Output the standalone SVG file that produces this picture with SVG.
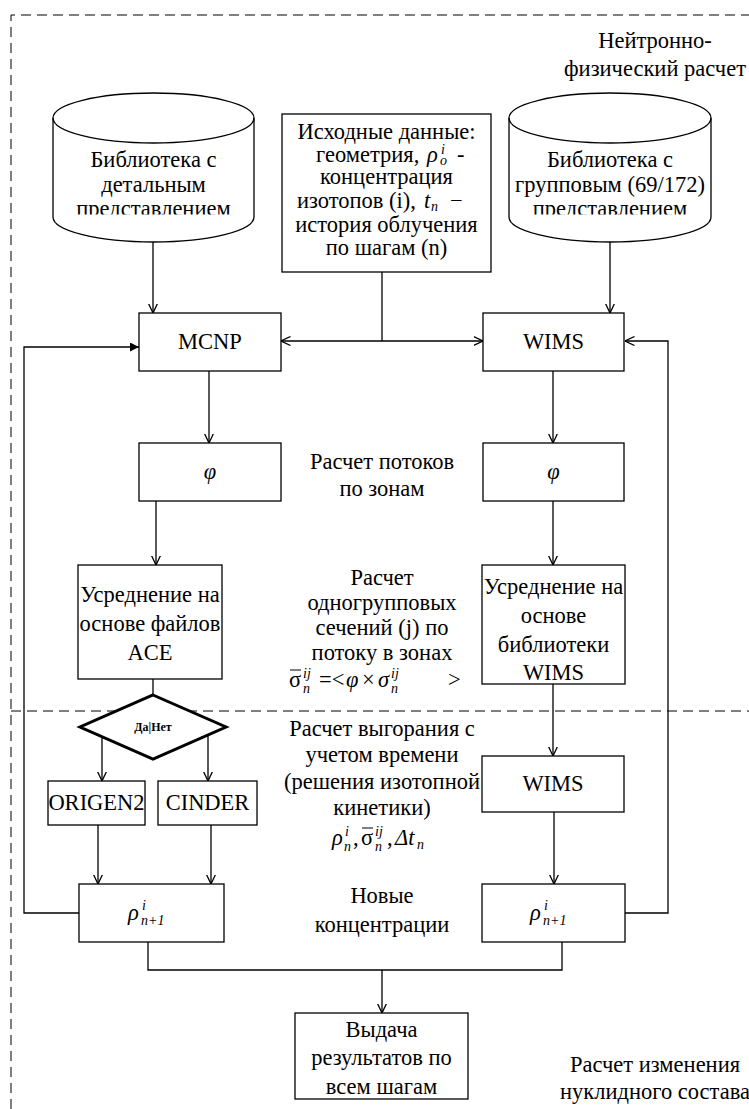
<svg xmlns="http://www.w3.org/2000/svg" width="749" height="1109" viewBox="0 0 749 1109">
<style>
text{font-family:"Liberation Serif","Times New Roman",serif;font-size:22.5px;fill:#000}
.c{text-anchor:middle}
.m{font-style:italic}
.s{font-size:14px;font-style:italic}
.box{fill:#fff;stroke:#000;stroke-width:1.3}
.cyl{fill:#fff;stroke:#000;stroke-width:1.3}
.dash{fill:none;stroke:#000;stroke-width:1;stroke-dasharray:10,6}
.ln{fill:none;stroke:#000;stroke-width:1.3}
.dm{fill:#fff;stroke:#000;stroke-width:3}
.bar{stroke:#000;stroke-width:1}
</style>
<defs>
<marker id="arr" viewBox="0 0 10 10" refX="9.5" refY="5" markerWidth="10" markerHeight="10" markerUnits="userSpaceOnUse" orient="auto">
<path d="M0,0.5 L9.5,5 L0,9.5" fill="none" stroke="#000" stroke-width="1.3"/>
</marker>
<marker id="arrf" viewBox="0 0 10 10" refX="10" refY="5" markerWidth="11" markerHeight="9" markerUnits="userSpaceOnUse" orient="auto">
<path d="M0,0 L10,5 L0,10 Z" fill="#000"/>
</marker>
<clipPath id="cylclip"><rect x="0" y="0" width="749" height="214.5"/></clipPath>
</defs>

<g id="frame">
<path class="dash" d="M11,1109 L11,15 L749,15"/>
<path class="dash" d="M11,711 L749,711"/>
</g>

<g id="connectors">
<line class="ln" x1="153" y1="242" x2="153" y2="313" marker-end="url(#arr)"/>
<line class="ln" x1="610" y1="242" x2="610" y2="313" marker-end="url(#arr)"/>
<line class="ln" x1="382" y1="272" x2="382" y2="341"/>
<line class="ln" x1="382" y1="341" x2="281" y2="341" marker-end="url(#arr)"/>
<line class="ln" x1="382" y1="341" x2="483" y2="341" marker-end="url(#arr)"/>
<line class="ln" x1="209" y1="371" x2="209" y2="443" marker-end="url(#arr)"/>
<line class="ln" x1="553" y1="371" x2="553" y2="443" marker-end="url(#arr)"/>
<line class="ln" x1="156" y1="501" x2="156" y2="565" marker-end="url(#arr)"/>
<line class="ln" x1="553" y1="501" x2="553" y2="565" marker-end="url(#arr)"/>
<line class="ln" x1="153" y1="679" x2="153" y2="695"/>
<line class="ln" x1="102" y1="737" x2="102" y2="781" marker-end="url(#arr)"/>
<line class="ln" x1="208" y1="735" x2="208" y2="781" marker-end="url(#arr)"/>
<line class="ln" x1="98" y1="825" x2="98" y2="884" marker-end="url(#arr)"/>
<line class="ln" x1="211" y1="825" x2="211" y2="884" marker-end="url(#arr)"/>
<line class="ln" x1="553" y1="684" x2="553" y2="756" marker-end="url(#arr)"/>
<line class="ln" x1="554" y1="812" x2="554" y2="884" marker-end="url(#arr)"/>
<path class="ln" d="M79,913 L24,913 L24,347 L139,347" marker-end="url(#arrf)"/>
<path class="ln" d="M625,913 L668,913 L668,341 L625,341" marker-end="url(#arr)"/>
<path class="ln" d="M148,942 L148,970 L562,970 L562,942"/>
<line class="ln" x1="382" y1="970" x2="382" y2="1013" marker-end="url(#arr)"/>
</g>

<g id="lib-detail">
<path class="cyl" d="M53,118 A100.5,25 0 0 1 254,118 L254,217 A100.5,25 0 0 1 53,217 Z"/>
<path class="ln" d="M53,118 A100.5,25 0 0 0 254,118"/>
<g clip-path="url(#cylclip)">
<text class="c" x="153.5" y="167">Библиотека с</text>
<text class="c" x="153.5" y="192">детальным</text>
<text class="c" x="153.5" y="216">представлением</text>
</g>
</g>

<g id="lib-group">
<path class="cyl" d="M509,118 A101,25 0 0 1 711,118 L711,217 A101,25 0 0 1 509,217 Z"/>
<path class="ln" d="M509,118 A101,25 0 0 0 711,118"/>
<g clip-path="url(#cylclip)">
<text class="c" x="610" y="167">Библиотека с</text>
<text class="c" x="610" y="192">групповым (69/172)</text>
<text class="c" x="610" y="216">представлением</text>
</g>
</g>

<g id="input-data">
<rect class="box" x="282" y="114" width="209" height="158"/>
<text class="c" x="386.5" y="139">Исходные данные:</text>
<text y="162"><tspan x="316">геометрия, </tspan><tspan x="427" class="m">ρ</tspan><tspan x="440" dy="3" class="s">o</tspan><tspan x="441" dy="-11" class="s">i</tspan><tspan x="457" dy="8">-</tspan></text>
<text class="c" x="386.5" y="184">концентрация</text>
<text y="208"><tspan x="297">изотопов (i), </tspan><tspan x="424" class="m">t</tspan><tspan x="431" dy="3" class="s">n</tspan><tspan x="450" dy="-3">−</tspan></text>
<text class="c" x="386.5" y="232">история облучения</text>
<text class="c" x="386.5" y="255">по шагам (n)</text>
</g>

<g id="mcnp">
<rect class="box" x="139" y="313" width="142" height="58"/>
<text class="c" x="210" y="349">MCNP</text>
</g>

<g id="wims">
<rect class="box" x="483" y="313" width="141" height="58"/>
<text class="c" x="553.5" y="349">WIMS</text>
</g>

<g id="phi-left">
<rect class="box" x="139" y="443" width="142" height="58"/>
<text class="c m" x="210" y="479">φ</text>
</g>

<g id="phi-right">
<rect class="box" x="483" y="443" width="141" height="58"/>
<text class="c m" x="553.5" y="479">φ</text>
</g>

<g id="label-flux">
<text class="c" x="382" y="469">Расчет потоков</text>
<text class="c" x="382" y="496">по зонам</text>
</g>

<g id="avg-ace">
<rect class="box" x="78" y="565" width="144" height="114"/>
<text class="c" x="150" y="602">Усреднение на</text>
<text class="c" x="150" y="631">основе файлов</text>
<text class="c" x="150" y="660">ACE</text>
</g>

<g id="avg-wims">
<rect class="box" x="482" y="565" width="143" height="119"/>
<text class="c" x="553.5" y="594">Усреднение на</text>
<text class="c" x="553.5" y="623">основе</text>
<text class="c" x="553.5" y="652">библиотеки</text>
<text class="c" x="553.5" y="680">WIMS</text>
</g>

<g id="label-xs">
<text class="c" x="382" y="585">Расчет</text>
<text class="c" x="382" y="610">одногрупповых</text>
<text class="c" x="382" y="635">сечений (j) по</text>
<text class="c" x="382" y="660">потоку в зонах</text>
<line class="bar" x1="290" y1="670" x2="301" y2="670"/>
<text y="687"><tspan x="289">σ</tspan><tspan x="303" dy="-9" class="s">ij</tspan><tspan x="303" dy="15" class="s">n</tspan><tspan x="319" dy="-6">=&lt;</tspan><tspan x="346" class="m">φ</tspan><tspan x="362">×</tspan><tspan x="378" class="m">σ</tspan><tspan x="391" dy="-9" class="s">ij</tspan><tspan x="391" dy="15" class="s">n</tspan><tspan x="448" dy="-6">&gt;</tspan></text>
</g>

<g id="decision">
<polygon class="dm" points="153,695 226,727 153,759 80,727"/>
<text class="c" x="153" y="731" style="font-size:12px;font-weight:bold">Да|Нет</text>
</g>

<g id="label-burnup">
<text class="c" x="382" y="736">Расчет выгорания с</text>
<text class="c" x="382" y="762">учетом времени</text>
<text class="c" x="382" y="789">(решения изотопной</text>
<text class="c" x="382" y="815">кинетики)</text>
<line class="bar" x1="362" y1="828" x2="373" y2="828"/>
<text y="845"><tspan x="332" class="m">ρ</tspan><tspan x="345" dy="-9" class="s">i</tspan><tspan x="344" dy="15" class="s">n</tspan><tspan x="353" dy="-6">,</tspan><tspan x="361">σ</tspan><tspan x="375" dy="-9" class="s">ij</tspan><tspan x="375" dy="15" class="s">n</tspan><tspan x="387" dy="-6">,</tspan><tspan x="395" class="m">Δt</tspan><tspan x="417" dy="4" class="s">n</tspan></text>
</g>

<g id="origen2">
<rect class="box" x="48" y="781" width="97" height="44"/>
<text class="c" x="96.5" y="810">ORIGEN2</text>
</g>

<g id="cinder">
<rect class="box" x="158" y="781" width="99" height="44"/>
<text class="c" x="207.5" y="810">CINDER</text>
</g>

<g id="wims-burn">
<rect class="box" x="482" y="756" width="142" height="56"/>
<text class="c" x="553" y="791">WIMS</text>
</g>

<g id="rho-left">
<rect class="box" x="79" y="884" width="145" height="58"/>
<text y="920"><tspan x="128" class="m">ρ</tspan><tspan x="142" dy="-10" class="s">i</tspan><tspan x="141" dy="15" class="s">n+1</tspan></text>
</g>

<g id="rho-right">
<rect class="box" x="482" y="884" width="143" height="58"/>
<text y="920"><tspan x="530" class="m">ρ</tspan><tspan x="544" dy="-10" class="s">i</tspan><tspan x="543" dy="15" class="s">n+1</tspan></text>
</g>

<g id="label-new">
<text class="c" x="382" y="903">Новые</text>
<text class="c" x="382" y="932">концентрации</text>
</g>

<g id="output">
<rect class="box" x="295" y="1013" width="173" height="86"/>
<text class="c" x="381.5" y="1037">Выдача</text>
<text class="c" x="381.5" y="1065">результатов по</text>
<text class="c" x="381.5" y="1094">всем шагам</text>
</g>

<g id="label-neutron">
<text class="c" x="655" y="48">Нейтронно-</text>
<text class="c" x="655" y="76">физический расчет</text>
</g>

<g id="label-nuclide">
<text class="c" x="655" y="1072">Расчет изменения</text>
<text class="c" x="655" y="1099">нуклидного состава</text>
</g>
</svg>
